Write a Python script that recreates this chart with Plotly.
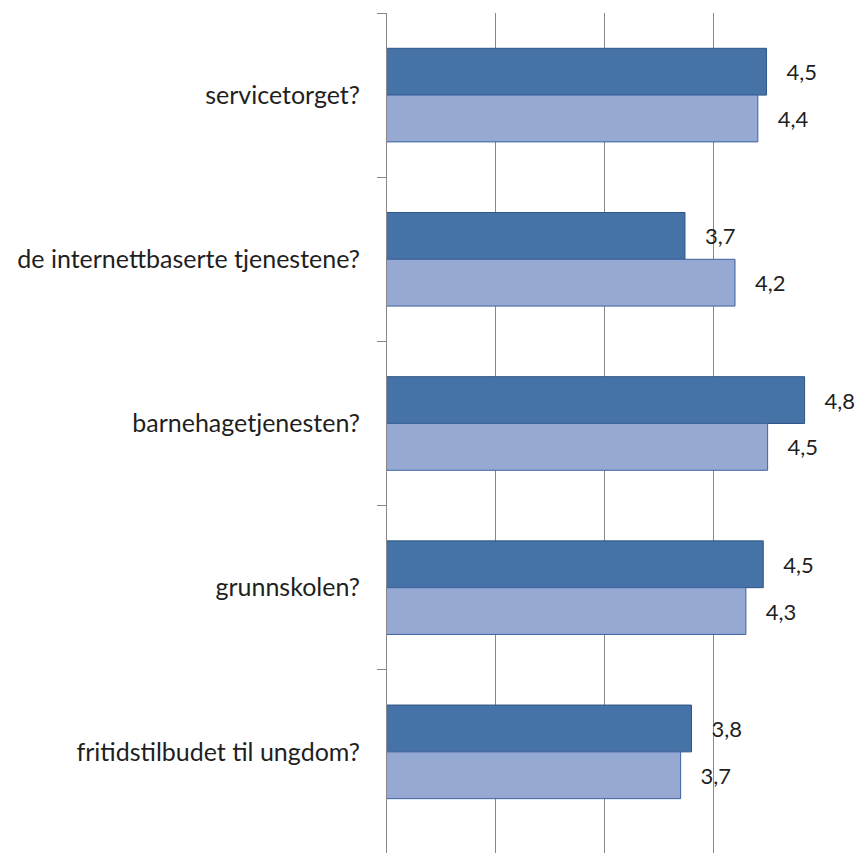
import plotly.graph_objects as go

categories = ["servicetorget?", "de internettbaserte tjenestene?", "barnehagetjenesten?",
              "grunnskolen?", "fritidstilbudet til ungdom?"]
series_a = [4.49, 3.74, 4.84, 4.46, 3.80]
series_b = [4.41, 4.20, 4.50, 4.30, 3.70]

label_font = dict(family="Lato", size=22, color="#1f1f1f")

fig = go.Figure()
fig.add_trace(go.Bar(
    y=categories, x=series_a, orientation="h",
    marker=dict(color="#4572A7", line=dict(color="#2f5686", width=1)),
    texttemplate="   %{x:.1f}", textposition="outside", cliponaxis=False,
    textfont=label_font,
))
fig.add_trace(go.Bar(
    y=categories, x=series_b, orientation="h",
    marker=dict(color="#95A9D3", line=dict(color="#3d63a0", width=1)),
    texttemplate="   %{x:.1f}", textposition="outside", cliponaxis=False,
    textfont=label_font,
))

fig.update_layout(
    width=855, height=853,
    margin=dict(l=387, r=33, t=13, b=0, autoexpand=False),
    barmode="group", bargap=0.43, bargroupgap=0,
    showlegend=False,
    plot_bgcolor="white", paper_bgcolor="white",
    separators=",.",
    font=dict(family="Lato", size=22, color="#1f1f1f"),
)
fig.update_xaxes(
    range=[1, 5], dtick=1, showticklabels=False,
    showgrid=True, gridcolor="#878787", gridwidth=1,
    zeroline=False, showline=False,
)
fig.update_yaxes(
    type="category", range=[4.616, -0.5],
    showline=True, linecolor="#878787", linewidth=1,
    ticks="outside", ticklen=9, tickcolor="#878787", tickson="boundaries",
    ticklabelstandoff=21, showgrid=False,
    tickfont=dict(family="Lato", size=25, color="#1f1f1f"),
)

fig.write_html(
    "out.html",
    config={"displayModeBar": False},
    post_script="document.body.style.margin='0';document.body.style.overflow='hidden';",
)
